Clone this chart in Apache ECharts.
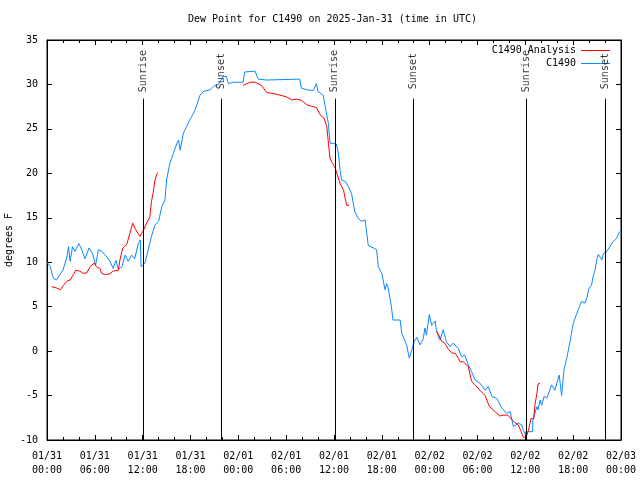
<!DOCTYPE html>
<html>
<head>
<meta charset="utf-8">
<script src="https://cdn.jsdelivr.net/npm/echarts@6/dist/echarts.min.js"></script>
<style>html,body{margin:0;padding:0;background:#fff}#c{width:640px;height:480px}</style>
</head>
<body>
<div id="c"></div>
<script>
// hours since 2025-01-31 00:00 UTC
const xTickLabels = ['01/31\n00:00','01/31\n06:00','01/31\n12:00','01/31\n18:00','02/01\n00:00','02/01\n06:00','02/01\n12:00','02/01\n18:00','02/02\n00:00','02/02\n06:00','02/02\n12:00','02/02\n18:00','02/03\n00:00'];

const obsHours = [0.0,0.4,0.8,1.2,1.6,2.0,2.5,2.7,2.9,3.2,3.5,4.0,4.35,4.77,5.27,5.7,6.1,6.45,6.9,7.5,7.9,8.3,8.65,8.95,9.4,9.8,10.2,10.6,11.0,11.45,11.7,11.8,12.3,12.7,13.1,13.55,14.0,14.4,14.8,15.0,15.4,15.85,16.3,16.5,16.7,17.1,17.5,18.15,18.55,19.2,19.6,20.45,20.9,21.5,22.1,22.5,22.75,23.4,24.6,24.8,26.1,26.5,27.55,31.7,31.9,32.6,33.4,33.8,34.0,34.65,34.9,35.3,35.5,35.7,36.3,36.55,36.75,36.95,37.4,37.8,38.0,38.2,38.6,39.05,39.5,39.9,40.3,40.95,41.35,41.55,42.0,42.4,42.6,42.8,43.2,43.4,44.3,44.5,44.7,45.1,45.45,45.75,46.05,46.4,46.8,47.2,47.4,47.6,47.95,48.25,48.7,48.8,49.1,49.3,49.7,50.1,50.55,50.95,51.6,52.0,52.4,52.85,53.25,53.7,54.3,54.95,55.35,55.8,56.4,57.05,57.65,58.1,58.5,59.1,59.55,59.75,59.95,60.0,60.05,60.9,60.95,61.2,61.45,61.6,61.85,62.05,62.35,62.7,63.3,63.7,64.25,64.55,64.85,65.2,65.6,66.0,66.4,67.05,67.5,67.7,68.0,68.3,68.5,68.75,68.95,69.15,69.35,69.6,69.8,70.2,70.6,71.0,71.45,71.8,72.0];
const obsValues = [10.0,9.5,8.2,8.0,8.6,9.1,10.6,11.75,10.1,11.75,11.2,12.1,11.4,10.4,11.6,11.0,9.7,11.4,11.2,10.6,10.1,9.3,10.2,9.2,9.5,10.8,10.1,10.8,10.4,12.1,12.5,9.5,9.9,11.4,12.9,14.2,14.6,16.25,17.0,19.25,21.1,22.25,23.4,23.75,22.6,24.5,25.25,26.4,27.1,28.8,29.2,29.4,29.8,30.0,30.9,30.9,30.1,30.25,30.25,31.4,31.5,30.6,30.5,30.6,29.6,29.4,29.3,30.1,29.2,28.8,27.5,25.6,23.4,23.2,23.3,22.25,20.4,19.25,19.1,18.5,18.1,17.75,15.7,14.9,14.6,14.75,11.9,11.6,11.4,9.5,8.75,6.9,7.6,7.1,5.0,3.5,3.5,2.0,1.6,0.7,-0.8,0.1,1.05,1.55,0.7,1.4,2.6,1.8,4.1,2.9,3.4,2.6,1.6,1.25,2.4,1.05,0.5,0.9,0.3,-0.63,-0.45,-1.56,-2.3,-3.25,-3.6,-4.4,-4.0,-5.1,-5.3,-6.4,-7.0,-6.8,-8.5,-8.1,-8.3,-8.9,-9.06,-9.4,-9.06,-9.06,-7.75,-7.6,-6.25,-6.6,-5.5,-6.1,-5.1,-5.3,-3.8,-4.4,-2.7,-5.0,-2.1,-0.8,1.05,3.1,4.1,5.6,5.4,5.95,7.1,7.4,8.4,9.1,10.25,10.9,10.9,10.25,11.0,11.2,11.75,12.3,12.7,13.4,13.5];

const anaHours = [0.6,1.2,1.7,2.05,2.55,2.9,3.3,3.6,4.1,4.55,5.0,5.4,5.9,6.2,6.65,6.85,7.3,7.9,8.3,8.95,9.15,9.5,10.0,10.4,10.75,11.05,11.65,12.1,12.5,12.9,13.1,13.3,13.55,13.85,14.0,
 24.6,25.45,26.1,26.9,27.55,28.8,30.05,30.7,31.3,31.95,32.6,33.8,34.25,34.75,35.1,35.3,35.5,35.7,36.1,36.35,36.75,37.2,37.4,37.6,37.9,38.0,
 48.8,49.1,49.5,49.9,50.35,50.75,51.2,51.6,51.8,52.2,52.85,53.25,53.7,54.3,54.95,55.5,55.95,56.8,57.3,57.8,58.5,59.1,59.4,59.75,60.1,60.4,60.7,61.05,61.2,61.45,61.6,61.85];
const anaValues = [7.25,7.1,6.9,7.4,7.9,8.0,8.6,9.1,9.0,8.75,8.8,9.5,9.9,9.5,9.3,8.75,8.6,8.7,9.0,9.1,10.25,11.6,12.0,13.25,14.4,13.8,12.9,13.6,14.4,15.1,16.8,17.75,19.25,20.1,null,
 29.9,30.25,30.25,29.9,29.1,28.9,28.6,28.25,28.35,28.2,27.7,27.4,26.6,26.2,25.25,23.4,21.7,21.3,20.75,20.0,18.9,18.1,17.2,16.4,16.4,null,
 2.25,1.9,1.1,0.9,0.2,-0.2,-0.25,-0.8,-1.2,-1.2,-1.75,-3.4,-3.8,-4.4,-5.0,-6.25,-6.6,-7.3,-7.2,-7.2,-7.9,-8.3,-8.9,-9.7,-9.7,-8.9,-7.6,-7.6,-6.1,-4.75,-3.7,-3.6];

const sunNames = ['Sunrise','Sunset','Sunrise','Sunset','Sunrise','Sunset'];
const sunHours = [12.08,21.9,36.1,45.95,60.1,70.0];
const sunLineTop = 28.4;
const sunLabelY = 31.5;

const FONT = 'DejaVu Sans Mono';
const zip = (a,b) => a.map((v,i)=>[v,b[i]]);

const chart = echarts.init(document.getElementById('c'), null, {renderer:'canvas'});
const xCommon = {
  type:'value', min:0, max:72, interval:6,
  axisLine:{show:true, onZero:false, lineStyle:{color:'#000', width:1}},
  axisTick:{show:true, inside:true, length:5, lineStyle:{color:'#000'}},
  minorTick:{show:true, splitNumber:3, length:3, lineStyle:{color:'#000'}},
  splitLine:{show:false}, minorSplitLine:{show:false}
};
const yCommon = {
  type:'value', min:-10, max:35, interval:5,
  axisLine:{show:true, onZero:false, lineStyle:{color:'#000', width:1}},
  axisTick:{show:true, inside:true, length:5, lineStyle:{color:'#000'}},
  splitLine:{show:false}
};
chart.setOption({
  animation:false,
  backgroundColor:'#fff',
  title:{text:'Dew Point for C1490 on 2025-Jan-31 (time in UTC)', left:183, top:9,
    textStyle:{fontFamily:FONT, fontSize:10, fontWeight:'normal', color:'#000'}},
  legend:{
    data:[{name:'C1490 Analysis', icon:'rect'},{name:'C1490', icon:'rect'}],
    orient:'vertical', align:'right', right:25, top:39,
    itemWidth:29, itemHeight:1, itemGap:0,
    textStyle:{fontFamily:FONT, fontSize:10, color:'#000', lineHeight:13}
  },
  grid:{left:47, right:19, top:40, bottom:40, show:true, borderColor:'#000', borderWidth:1,
    containLabel:false, outerBoundsMode:'none'},
  xAxis:[
    Object.assign({}, xCommon, {position:'bottom',
      axisLabel:{margin:9, fontFamily:FONT, fontSize:10, color:'#000', lineHeight:14,
        formatter:(v)=>xTickLabels[Math.round(v/6)] || ''}}),
    Object.assign({}, xCommon, {position:'top', axisLabel:{show:false}})
  ],
  yAxis:[
    Object.assign({}, yCommon, {position:'left', name:'degrees F', nameLocation:'middle', nameGap:33, nameRotate:90,
      nameMoveOverlap:false,
      nameTextStyle:{fontFamily:FONT, fontSize:10, color:'#000'},
      axisLabel:{margin:9, fontFamily:FONT, fontSize:10, color:'#000'}}),
    Object.assign({}, yCommon, {position:'right', axisLabel:{show:false}})
  ],
  series:[
    {name:'C1490 Analysis', type:'line', data:zip(anaHours, anaValues), symbol:'none', connectNulls:false,
      lineStyle:{color:'#ff0000', width:1}, itemStyle:{color:'#ff0000'}, z:3},
    {name:'C1490', type:'line', data:zip(obsHours, obsValues), symbol:'none',
      lineStyle:{color:'#0a88ff', width:1}, itemStyle:{color:'#0a88ff'}, z:2},
    {name:'sun', type:'scatter', symbolSize:0, silent:true, z:4,
      data:sunHours.map((h,i)=>({name:sunNames[i], value:[h, sunLabelY]})),
      label:{show:true, position:'inside', rotate:90, formatter:(p)=>p.name,
        fontFamily:FONT, fontSize:10, color:'#000', offset:[0,0]},
      markLine:{silent:true, symbol:['none','none'], label:{show:false},
        lineStyle:{color:'#000', width:1, type:'solid'},
        data:sunHours.map(h=>[{coord:[h,-10]},{coord:[h,sunLineTop]}])}
    }
  ]
});
</script>
</body>
</html>
